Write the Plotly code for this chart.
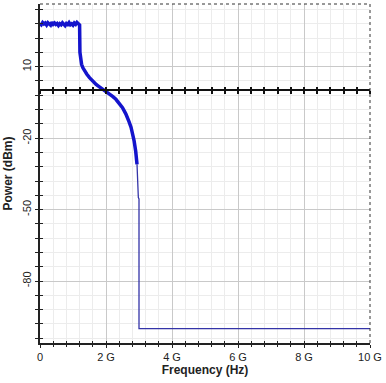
import plotly.graph_objects as go

# Spectrum in GHz / dBm
plateau_ghz = [0.00, 0.04, 0.08, 0.12, 0.16, 0.20, 0.24, 0.28, 0.32, 0.36, 0.40,
               0.44, 0.48, 0.52, 0.56, 0.60, 0.64, 0.68, 0.72, 0.76, 0.80, 0.84,
               0.88, 0.92, 0.96, 1.00, 1.04, 1.08, 1.12, 1.16, 1.19]
plateau_dbm = [28.2, 27.6, 28.5, 27.9, 28.3, 27.5, 28.4, 28.0, 27.4, 28.6, 27.8,
               28.3, 27.7, 28.1, 27.3, 28.0, 27.6, 28.4, 27.9, 27.2, 28.1, 27.7,
               28.5, 27.6, 28.0, 27.4, 28.3, 27.8, 28.6, 28.0, 27.7]

rolloff_ghz = [1.20, 1.21, 1.23, 1.26, 1.30, 1.35, 1.42, 1.50, 1.60, 1.70, 1.80,
               1.90, 2.00, 2.10, 2.20, 2.30, 2.40, 2.50, 2.60, 2.65, 2.70, 2.76,
               2.80, 2.85, 2.90, 2.94]
rolloff_dbm = [27.5, 16.0, 12.5, 11.0, 9.5, 8.2, 6.8, 5.4, 3.8, 2.5, 1.5,
               0.6, -0.3, -1.3, -2.5, -3.7, -5.2, -7.2, -9.8, -11.3, -13.2, -15.5,
               -17.8, -21.0, -25.5, -31.0]

tail_ghz = [2.94, 2.96, 2.97, 2.98, 3.00, 3.00, 10.0]
tail_dbm = [-31.0, -38.0, -43.0, -45.0, -45.5, -100.0, -100.0]

x_tick_vals = [0, 2, 4, 6, 8, 10]
x_tick_text = ["0", "2 G", "4 G", "6 G", "8 G", "10 G"]
y_tick_vals = [10, -20, -50, -80]
y_tick_text = ["10", "-20", "-50", "-80"]

X_RANGE = [0, 10]
Y_RANGE = [-106, 36.3]

GHZ = 1e9
to_hz = lambda v: [f * GHZ for f in v]

fig = go.Figure()
fig.add_trace(go.Scatter(
    x=to_hz(plateau_ghz + rolloff_ghz), y=plateau_dbm + rolloff_dbm,
    mode="lines", line=dict(color="#1414cc", width=3.5), hoverinfo="skip"))
fig.add_trace(go.Scatter(
    x=to_hz(tail_ghz), y=tail_dbm,
    mode="lines", line=dict(color="#3434a8", width=1.3), hoverinfo="skip"))

# empty traces so the extra tick axes get rendered
for xa, ya in [("x2", "y"), ("x3", "y"), ("x4", "y"), ("x", "y2")]:
    fig.add_trace(go.Scatter(x=[None], y=[None], xaxis=xa, yaxis=ya,
                             mode="lines", hoverinfo="skip", showlegend=False))

font = dict(family="Liberation Sans, Arial, sans-serif", size=11, color="#222")
xr = [v * GHZ for v in X_RANGE]
y0_frac = (0 - Y_RANGE[0]) / (Y_RANGE[1] - Y_RANGE[0])

minor_x = [i * 0.4 * GHZ for i in range(26)]
minor_y = [10 - 6 * i for i in range(-4, 20)]

tick_axis = dict(range=xr, overlaying="x", showgrid=False, zeroline=False,
                 showticklabels=False, tickmode="array", tickvals=minor_x)

fig.update_layout(
    width=386, height=383,
    margin=dict(l=40, r=13, t=4, b=40),
    paper_bgcolor="white", plot_bgcolor="white",
    showlegend=False, font=font,
    xaxis=dict(
        range=xr, tickvals=[v * GHZ for v in x_tick_vals], ticktext=x_tick_text,
        showline=True, linecolor="#222", linewidth=1.5,
        ticks="outside", ticklen=3, tickcolor="#222",
        showgrid=True, gridcolor="#c9c9c9", gridwidth=1, zeroline=False,
        minor=dict(dtick=0.4 * GHZ, tick0=0, ticks="outside", ticklen=2,
                   tickcolor="#222", showgrid=True, gridcolor="#ececec"),
        title=dict(text="<b>Frequency (Hz)</b>", standoff=4,
                   font=dict(size=12, color="#222")),
    ),
    yaxis=dict(
        range=Y_RANGE, tickvals=y_tick_vals, ticktext=y_tick_text, tickangle=-90,
        showline=True, linecolor="#222", linewidth=1.5,
        ticks="outside", ticklen=3, tickcolor="#222",
        showgrid=True, gridcolor="#c9c9c9", gridwidth=1, zeroline=False,
        minor=dict(dtick=6, tick0=10, ticks="outside", ticklen=3,
                   tickcolor="#222", showgrid=True, gridcolor="#ececec"),
        title=dict(text="<b>Power (dBm)</b>", standoff=6,
                   font=dict(size=12, color="#222")),
    ),
    # inward ticks on the left and bottom axes
    yaxis2=dict(range=Y_RANGE, overlaying="y", anchor="x", side="left",
                showline=False, showgrid=False, zeroline=False, showticklabels=False,
                ticks="inside", ticklen=3, tickcolor="#222",
                tickmode="array", tickvals=minor_y),
    xaxis2=dict(tick_axis, anchor="y", side="bottom", showline=False,
                ticks="inside", ticklen=2, tickcolor="#222"),
    # 0 dBm reference axis crossing the plot
    xaxis3=dict(tick_axis, anchor="free", position=y0_frac, side="bottom",
                showline=True, linecolor="#111", linewidth=1.5,
                ticks="outside", ticklen=3, tickcolor="#111", tickwidth=1.5),
    xaxis4=dict(tick_axis, anchor="free", position=y0_frac, side="bottom",
                showline=False,
                ticks="inside", ticklen=3, tickcolor="#111", tickwidth=1.5),
    shapes=[
        dict(type="line", xref="paper", yref="paper", x0=0, x1=1, y0=1, y1=1,
             line=dict(color="#333", width=1, dash="dot")),
        dict(type="line", xref="paper", yref="paper", x0=1, x1=1, y0=0, y1=1,
             line=dict(color="#333", width=1, dash="dot")),
    ],
)

fig.write_html("out.html")
